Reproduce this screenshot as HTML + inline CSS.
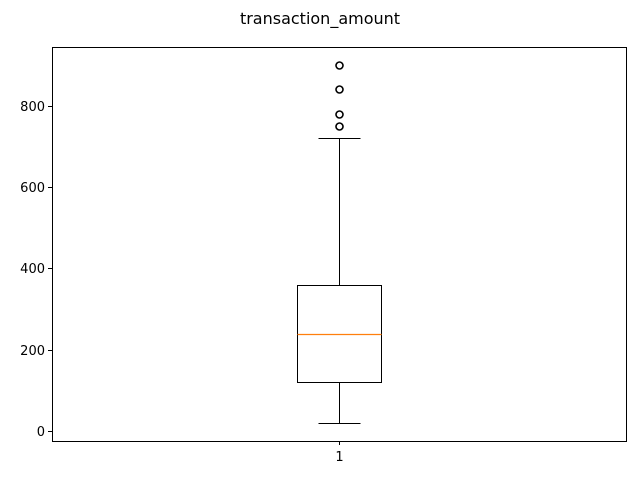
<!DOCTYPE html>
<html><head><meta charset="utf-8"><style>body{margin:0;background:#fff}svg{display:block}</style></head>
<body>
<svg id="chart" width="640" height="480" xmlns="http://www.w3.org/2000/svg" font-family="DejaVu Sans, Liberation Sans, sans-serif">
<text x="320" y="24" text-anchor="middle" font-size="16">transaction_amount</text>
<g id="plot"></g>
</svg>
<script>
const categories = ["1"];
const whiskerLow = [20];
const q1 = [120];
const median = [240];
const q3 = [360];
const whiskerHigh = [720];
const outliers = [[900, 840, 780, 750]];
const yTicks = [0, 200, 400, 600, 800];

const L=52,R=626,T=47,B=441, yMin=-24, yMax=944;
const y=v=>Math.round(B-(v-yMin)/(yMax-yMin)*(B-T))+0.5;
const x=i=>Math.round(L+(i+1-0.5)/(categories.length)*(R-L))+0.5;
const ns="http://www.w3.org/2000/svg", g=document.getElementById('plot');
function mk(t,a,p){const e=document.createElementNS(ns,t);for(const k in a)e.setAttribute(k,a[k]);(p||g).appendChild(e);return e;}
let e;
yTicks.forEach(v=>{
  e=mk('line',{x1:L-4,x2:L,y1:y(v),y2:y(v),stroke:'#000'});
  
  
  e=mk('text',{x:L-7,y:y(v)+4.5,'text-anchor':'end','font-size':13});e.textContent=v;
  
  
});
categories.forEach((c,i)=>{
  const cx=x(i), hw=42, cw=21;
  e=mk('line',{x1:cx,x2:cx,y1:B,y2:B+4,stroke:'#000'});
  
  
  e=mk('text',{x:cx,y:B+20,'text-anchor':'middle','font-size':13});e.textContent=c;
  
  
  e=mk('line',{x1:cx,x2:cx,y1:y(q1[i]),y2:y(whiskerLow[i]),stroke:'#000'});
  
  
  e=mk('line',{x1:cx,x2:cx,y1:y(q3[i]),y2:y(whiskerHigh[i]),stroke:'#000'});
  
  
  e=mk('line',{x1:cx-cw,x2:cx+cw,y1:y(whiskerLow[i]),y2:y(whiskerLow[i]),stroke:'#000'});
  
  
  e=mk('line',{x1:cx-cw,x2:cx+cw,y1:y(whiskerHigh[i]),y2:y(whiskerHigh[i]),stroke:'#000'});
  
  
  e=mk('rect',{x:cx-hw,y:y(q3[i]),width:2*hw,height:y(q1[i])-y(q3[i]),fill:'none',stroke:'#000'});
  
  
  e=mk('line',{x1:cx-hw,x2:cx+hw,y1:y(median[i]),y2:y(median[i]),stroke:'#ff7f0e','stroke-width':1.2});
  
  
  outliers[i].forEach(v=>{
    e=mk('circle',{cx:cx,cy:y(v),r:3.5,fill:'none',stroke:'#000','stroke-width':1.6});
    
    
  });
});
e=mk('rect',{x:L+0.5,y:T+0.5,width:R-L,height:B-T,fill:'none',stroke:'#000'});


</script>
</body></html>
